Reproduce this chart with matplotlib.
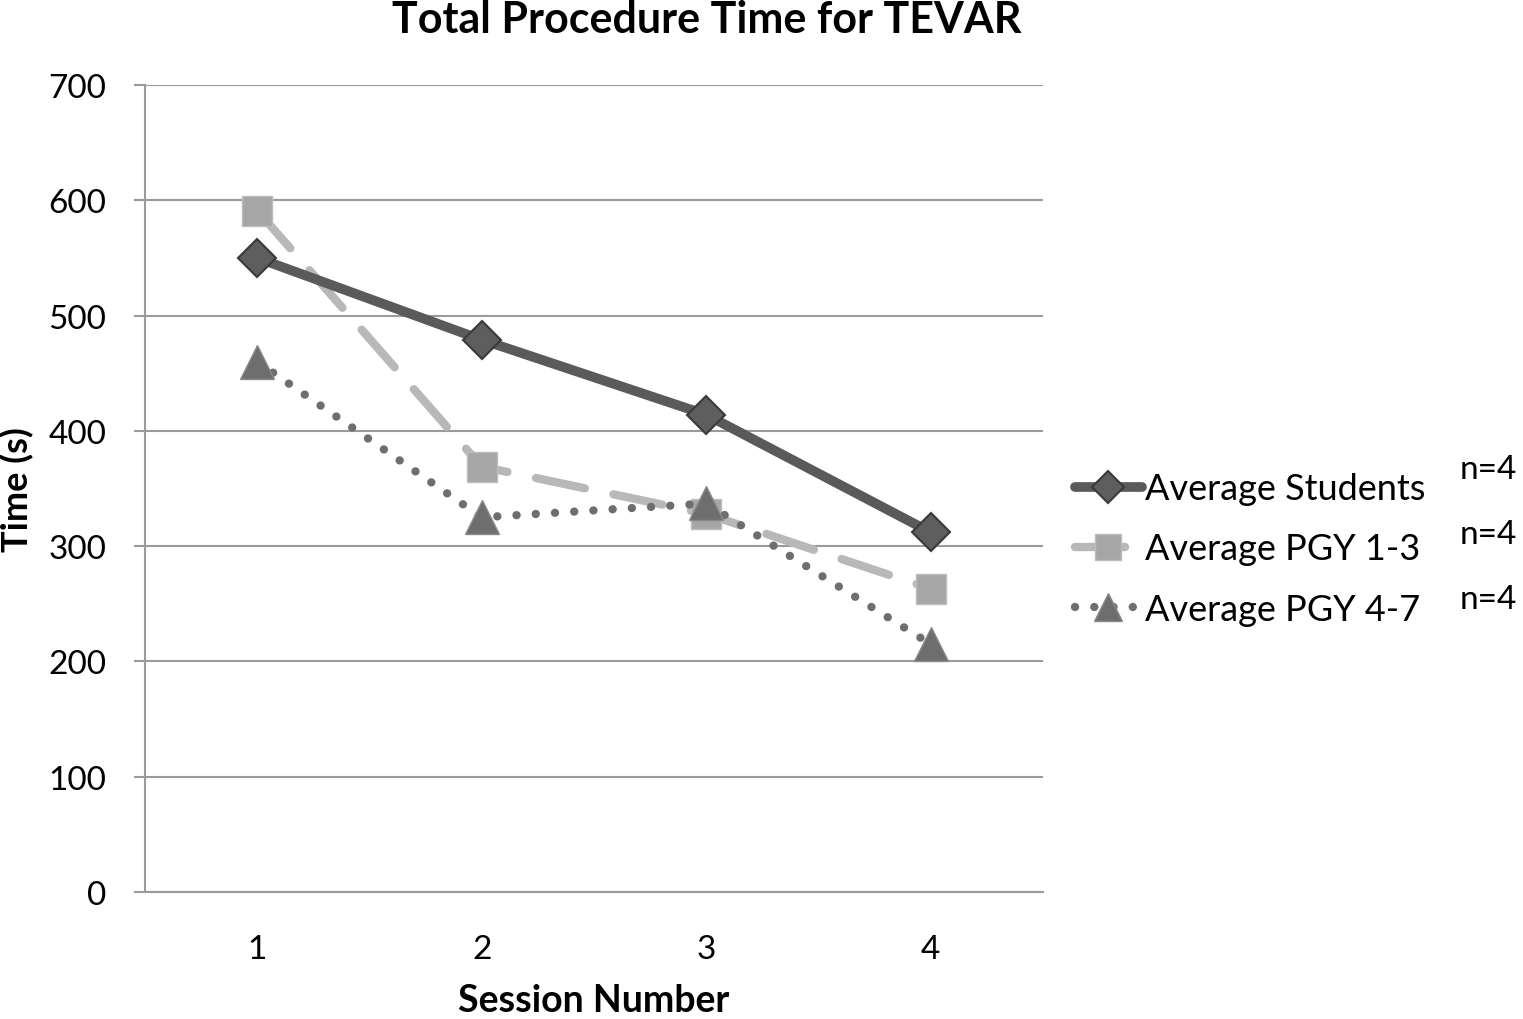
import matplotlib
matplotlib.use("Agg")
import matplotlib.pyplot as plt

plt.rcParams['font.family'] = ['Lato', 'DejaVu Sans']

# data
sessions = [1, 2, 3, 4]
students = [550, 479, 414, 312]
pgy_1_3 = [591, 369, 328, 263]
pgy_4_7 = [460, 325, 337, 215]
series_labels = ["Average Students", "Average PGY 1-3", "Average PGY 4-7"]
n_labels = ["n=4", "n=4", "n=4"]

fig = plt.figure(figsize=(15.23, 10.2), dpi=100)
ax = fig.add_axes([145 / 1523, 127 / 1020, 898 / 1523, 807 / 1020])

grid_color = "#9a9a9a"
l1, = ax.plot(sessions, students, color="#5a5a5a", lw=7, marker="D", markersize=19,
              markerfacecolor="#5e5e5e", markeredgecolor="#3a3a3a", markeredgewidth=1.5,
              solid_capstyle="round", zorder=4, label=series_labels[0])
l2, = ax.plot(sessions, pgy_1_3, color="#b8b8b8", lw=6, linestyle=(0, (6, 3.5)),
              dash_capstyle="round", marker="s", markersize=22,
              markerfacecolor="#a6a6a6", markeredgecolor="#bdbdbd", markeredgewidth=1,
              zorder=3, label=series_labels[1])
l3, = ax.plot(sessions, pgy_4_7, color="#6e6e6e", lw=6, linestyle=(0, (0.01, 2.3)),
              dash_capstyle="round", marker="^", markersize=24,
              markerfacecolor="#6e6e6e", markeredgecolor="#8a8a8a", markeredgewidth=1,
              zorder=3, label=series_labels[2])

ax.set_xlim(0.5, 4.5)
ax.set_ylim(0, 700)
ax.set_yticks(range(0, 701, 100))
ax.set_xticks(sessions)
ax.grid(axis="y", color=grid_color, lw=1.5)
ax.set_axisbelow(True)
for side in ["top", "right"]:
    ax.spines[side].set_visible(False)
ax.spines["left"].set_color(grid_color)
ax.spines["bottom"].set_color(grid_color)
ax.spines["left"].set_linewidth(1.5)
ax.spines["bottom"].set_linewidth(1.5)
ax.tick_params(axis="y", length=8, width=1.5, color=grid_color, labelsize=24, pad=20)
ax.tick_params(axis="x", length=0, labelsize=24, pad=30)

ax.set_xlabel("Session Number", fontsize=27, fontweight="bold", labelpad=14)
ax.set_ylabel("Time (s)", fontsize=26, fontweight="bold", labelpad=10)
fig.text(707 / 1523, 1 - 20 / 1020, "Total Procedure Time for TEVAR",
         ha="center", va="center", fontsize=31, fontweight="bold")

leg = fig.legend(handles=[l1, l2, l3], loc="center left",
                 bbox_to_anchor=(1057 / 1523, 1 - 550 / 1020),
                 frameon=False, fontsize=26, handlelength=1.85, handletextpad=0.1,
                 labelspacing=0.75, markerscale=0.85, borderpad=0)

for i, txt in enumerate(n_labels):
    fig.text(1488 / 1523, 1 - (470 + 65 * i) / 1020, txt, ha="center", va="center", fontsize=24)

fig.savefig("out.png", dpi=100)
